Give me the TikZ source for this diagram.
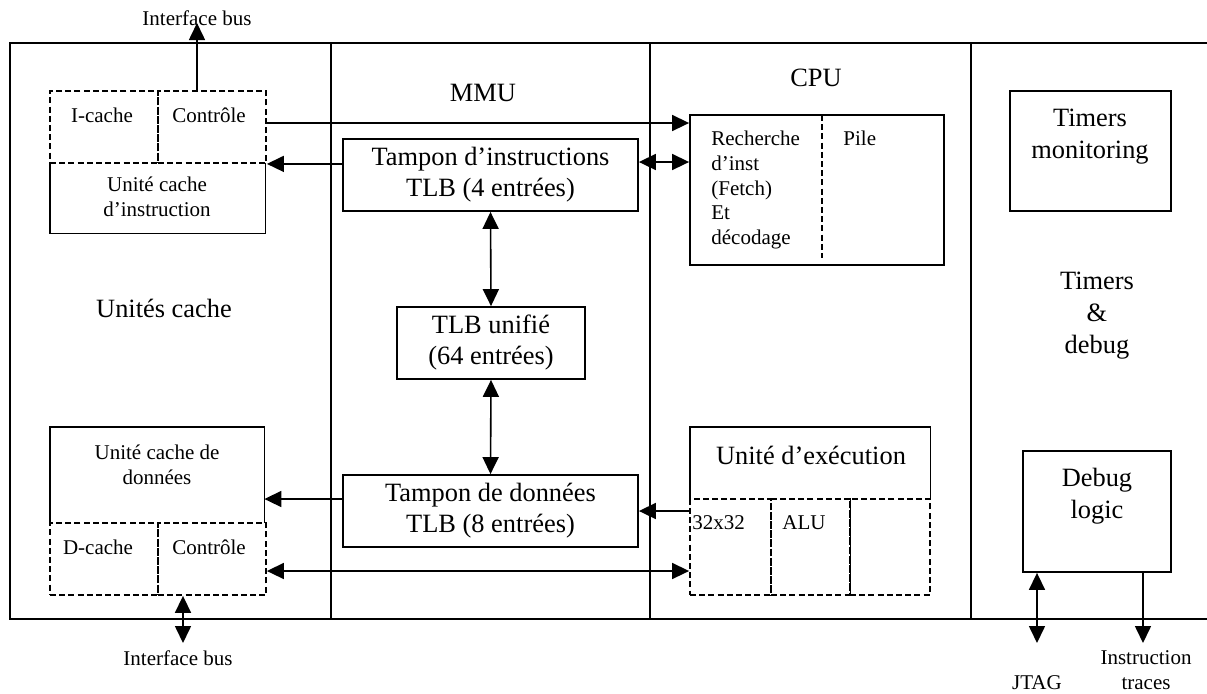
\documentclass[tikz,border=0pt]{standalone}
\usepackage{fontspec}
\setmainfont{Liberation Serif}
\usetikzlibrary{arrows.meta}

\tikzset{
  frame/.style={line width=1pt},
  solidbox/.style={draw, line width=0.9pt, inner sep=0pt},
  dashbox/.style={draw, line width=0.9pt, inner sep=0pt, dash pattern=on 3pt off 1.6pt},
  ghost/.style={inner sep=0pt},
  tip/.tip={Triangle[length=8.5pt,width=8pt]},
  arr/.style={line width=0.8pt, -tip},
  darr/.style={line width=0.8pt, tip-tip},
  big/.style={font=\fontsize{13.2}{15.5}\selectfont, align=center, inner sep=0pt},
  small/.style={font=\fontsize{10.5}{12.3}\selectfont, align=center, inner sep=0pt},
}

\begin{document}
\begin{tikzpicture}[x=0.5pt,y=-0.5pt]
\path[fill=white, use as bounding box] (0,0) rectangle (1207,693);

% outer frame and column dividers
\draw[frame] (1207,43) -- (10,43) -- (10,619) -- (1207,619);
\draw[frame] (331,43) -- (331,619);
\draw[frame] (650,43) -- (650,619);
\draw[frame] (971,43) -- (971,619);

% column titles
\node[big] (tmmu) at (483,93) {MMU};
\node[big] (tcpu) at (816,78) {CPU};
\node[big] (tcache) at (164,308) {Unités cache};
\node[big, font=\fontsize{13.2}{16}\selectfont] (tdebug) at (1097,316) {Timers\\\&\\debug};

% ---- instruction cache unit ----
\node[dashbox, minimum width=54pt, minimum height=36pt] (icache) at (104,127) {};
\node[dashbox, minimum width=54pt, minimum height=36pt] (ictrl) at (212,127) {};
\node[small] at (102,115) {I-cache};
\node[small] at (209,115) {Contrôle};
\node[ghost, minimum width=107.5pt, minimum height=35pt] (icu) at (157.5,198) {};
\draw[line width=0.9pt] (icu.north west) -- (icu.south west) -- (icu.south east) -- (icu.north east);
\node[small] at (157,197) {Unité cache\\d’instruction};

% ---- data cache unit ----
\node[ghost, minimum width=107pt, minimum height=48pt] (dcu) at (157,475) {};
\draw[line width=0.9pt] (dcu.south west) -- (dcu.north west) -- (dcu.north east) -- (dcu.south east);
\node[small] at (157,465) {Unité cache de\\données};
\node[dashbox, minimum width=54pt, minimum height=36pt] (dcache) at (104,559) {};
\node[dashbox, minimum width=54pt, minimum height=36pt] (dctrl) at (212,559) {};
\node[small] at (98,547) {D-cache};
\node[small] at (209,547) {Contrôle};

% ---- MMU ----
\node[solidbox, big, minimum width=147.5pt, minimum height=36pt] (tinst) at (490.5,175) {Tampon d’instructions\\TLB (4 entrées)};
\node[solidbox, big, minimum width=94pt, minimum height=36pt] (tuni) at (491,343) {TLB unifié\\(64 entrées)};
\node[solidbox, big, minimum width=147.5pt, minimum height=36pt] (tdat) at (490.5,511) {Tampon de données\\TLB (8 entrées)};

% ---- CPU: fetch/decode ----
\node[solidbox, minimum width=127pt, minimum height=75pt] (fetch) at (817,190) {};
\draw[line width=0.9pt, dash pattern=on 3pt off 1.6pt] (822,115) -- (822,258);
\node[small, align=left, anchor=north west] (fetchtxt) at (711,131) {Recherche\\d’inst\\(Fetch)\\Et\\décodage};
\node[small, anchor=north west] (pile) at (843,131) {Pile};

% ---- CPU: execution unit ----
\node[ghost, minimum width=120pt, minimum height=36pt] (exec) at (810,463) {};
\draw[line width=0.9pt] (exec.south west) -- (exec.north west) -- (exec.north east) -- (exec.south east);
\node[big] at (811,455) {Unité d’exécution};
\node[dashbox, minimum width=40.5pt, minimum height=48pt] (mul) at (730.5,547) {};
\node[dashbox, minimum width=39.5pt, minimum height=48pt] (alu) at (810.5,547) {};
\node[dashbox, minimum width=40pt, minimum height=48pt] (ex3) at (890,547) {};
\draw[line width=0.5pt] (alu.north east) -- (alu.south east);
\node[small, anchor=west] at (692,523) {32x32};
\node[small] at (804,523) {ALU};

% ---- timers and debug ----
\node[solidbox, minimum width=80.5pt, minimum height=60pt] (tmon) at (1090.5,151) {};
\node[big, font=\fontsize{13.2}{16}\selectfont, anchor=north] at (1090,109) {Timers\\monitoring};
\node[solidbox, minimum width=74pt, minimum height=60.5pt] (dbg) at (1097,511.5) {};
\node[big, font=\fontsize{13.2}{16}\selectfont, anchor=north] at (1097,468) {Debug\\logic};

% ---- external labels and free ends ----
\node[small] (busTop) at (197,18) {Interface bus};
\coordinate (busTopEnd) at (197,23);
\node[small] (busBot) at (178,658) {Interface bus};
\coordinate (busBotEnd) at (183,643);
\node[small] (jtag) at (1037,683) {JTAG};
\coordinate (jtagEnd) at (1037,643);
\node[small] (trace) at (1146,670) {Instruction\\traces};
\coordinate (traceEnd) at (1143,643);

% ---- connectors ----
\draw[arr] ([xshift=-7.5pt]ictrl.north) -- (busTopEnd);
\draw[arr] ([yshift=2pt]ictrl.east) -- ([yshift=2pt]ictrl.east -| fetch.west);
\draw[arr] (ictrl.south east -| tinst.west) -- (ictrl.south east);
\draw[darr] ([yshift=6.5pt]tinst.east) -- ([yshift=6.5pt]tinst.east -| fetch.west);
\draw[darr] (tinst.south) -- (tuni.north);
\draw[darr] (tuni.south) -- (tdat.north);
\draw[arr] ([yshift=6pt]tdat.west) -- ([yshift=6pt]tdat.west -| dcu.east);
\draw[arr] (tdat.east -| mul.west) -- (tdat.east);
\draw[darr] ([yshift=-6pt]dctrl.east) -- ([yshift=-6pt]dctrl.east -| mul.west);
\draw[darr] ([xshift=-14.5pt]dctrl.south) -- (busBotEnd);
\draw[darr] (dbg.south -| jtagEnd) -- (jtagEnd);
\draw[arr] (dbg.south -| traceEnd) -- (traceEnd);
\end{tikzpicture}
\end{document}
